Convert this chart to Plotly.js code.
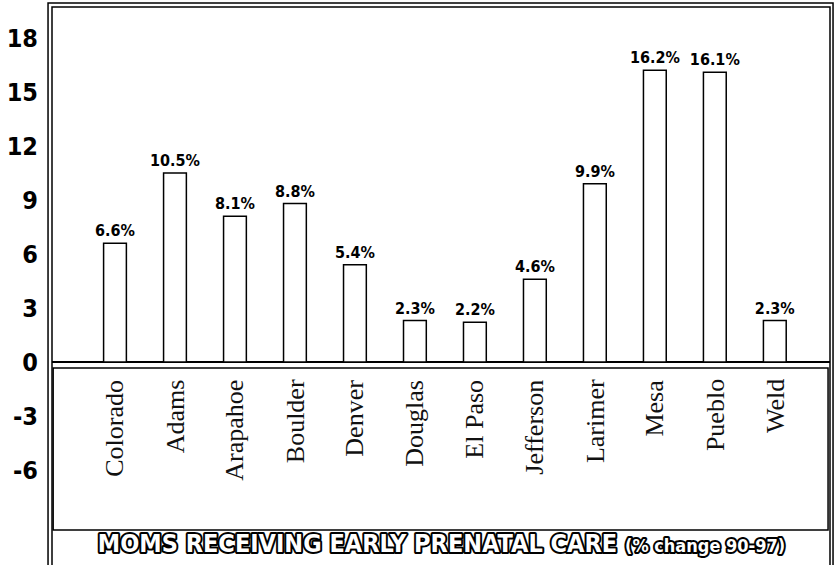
<!DOCTYPE html>
<html>
<head>
<meta charset="utf-8">
<script src="https://cdn.plot.ly/plotly-3.0.1.min.js"></script>
<style>
  html, body { margin: 0; padding: 0; background: #fff; }
  #chart { width: 837px; height: 565px; }
  .gtitle { fill: #fff !important; stroke: #000; stroke-width: 4px; paint-order: stroke; stroke-linejoin: round; }
</style>
</head>
<body>
<div id="chart"></div>
<script>
// ---- data ----
const counties = ["Colorado","Adams","Arapahoe","Boulder","Denver","Douglas","El Paso","Jefferson","Larimer","Mesa","Pueblo","Weld"];
const pctChange = [6.6, 10.5, 8.1, 8.8, 5.4, 2.3, 2.2, 4.6, 9.9, 16.2, 16.1, 2.3];
const barLabels = ["6.6%","10.5%","8.1%","8.8%","5.4%","2.3%","2.2%","4.6%","9.9%","16.2%","16.1%","2.3%"];
const yTicks = [18, 15, 12, 9, 6, 3, 0, -3, -6];
const yTickText = ["18","15","12","9","6","3","0","-3","-6"];
const titleMain = "MOMS RECEIVING EARLY PRENATAL CARE";
const titleSub = "(% change 90-97)";

const condBold = "DejaVu Sans Condensed, DejaVu Sans, sans-serif";

const trace = {
  type: "bar",
  x: counties,
  y: pctChange,
  width: 0.38,
  marker: { color: "#ffffff", line: { color: "#000000", width: 1.5 } },
  text: barLabels,
  textposition: "outside",
  constraintext: "none",
  textfont: { family: condBold, size: 16, color: "#000", weight: "bold" },
  cliponaxis: false,
  hoverinfo: "skip"
};

const annotations = counties.map(c => ({
  x: c, xref: "x",
  y: -0.85, yref: "y",
  text: c,
  textangle: -90,
  xanchor: "center", yanchor: "top",
  showarrow: false,
  font: { family: "Liberation Serif, Times New Roman, serif", size: 26, color: "#111" }
}));

const layout = {
  width: 837, height: 565,
  margin: { l: 52, r: 7, t: 7, b: 0, pad: 0 },
  paper_bgcolor: "#fff", plot_bgcolor: "#fff",
  showlegend: false,
  title: {
    text: titleMain + " <span style='font-size:18px'>" + titleSub + "</span>",
    font: { family: condBold, size: 25, color: "#fff", weight: "bold" },
    xref: "container", yref: "container",
    x: 0.5275, y: 0.038, xanchor: "center", yanchor: "middle"
  },
  xaxis: {
    type: "category",
    range: [-1.05, 11.92],
    showticklabels: false, showgrid: false, zeroline: false, showline: false,
    ticks: "", fixedrange: true
  },
  yaxis: {
    range: [-11.28, 19.72],
    tickvals: yTicks, ticktext: yTickText,
    tickfont: { family: condBold, size: 25, color: "#000", weight: "bold" },
    ticks: "", ticklabelstandoff: 13,
    showgrid: false, showline: false,
    zeroline: true, zerolinecolor: "#000", zerolinewidth: 1.5,
    fixedrange: true
  },
  annotations: annotations,
  shapes: [
    { type: "rect", xref: "paper", yref: "paper", x0: -0.0051, x1: 1.0039, y0: -0.03, y1: 1.0072,
      line: { color: "#000", width: 1.5 }, fillcolor: "rgba(0,0,0,0)", layer: "above" },
    { type: "rect", xref: "paper", yref: "paper", x0: 0, x1: 1.0, y0: -0.03, y1: 1.0,
      line: { color: "#000", width: 1.5 }, fillcolor: "rgba(0,0,0,0)", layer: "above" },
    { type: "rect", xref: "paper", yref: "paper", x0: 0.0015, x1: 0.9975, y0: 0.0627, y1: 0.353,
      line: { color: "#000", width: 1.5 }, fillcolor: "#fff", layer: "below" }
  ]
};

Plotly.newPlot("chart", [trace], layout, { staticPlot: true, displayModeBar: false });
</script>
</body>
</html>
